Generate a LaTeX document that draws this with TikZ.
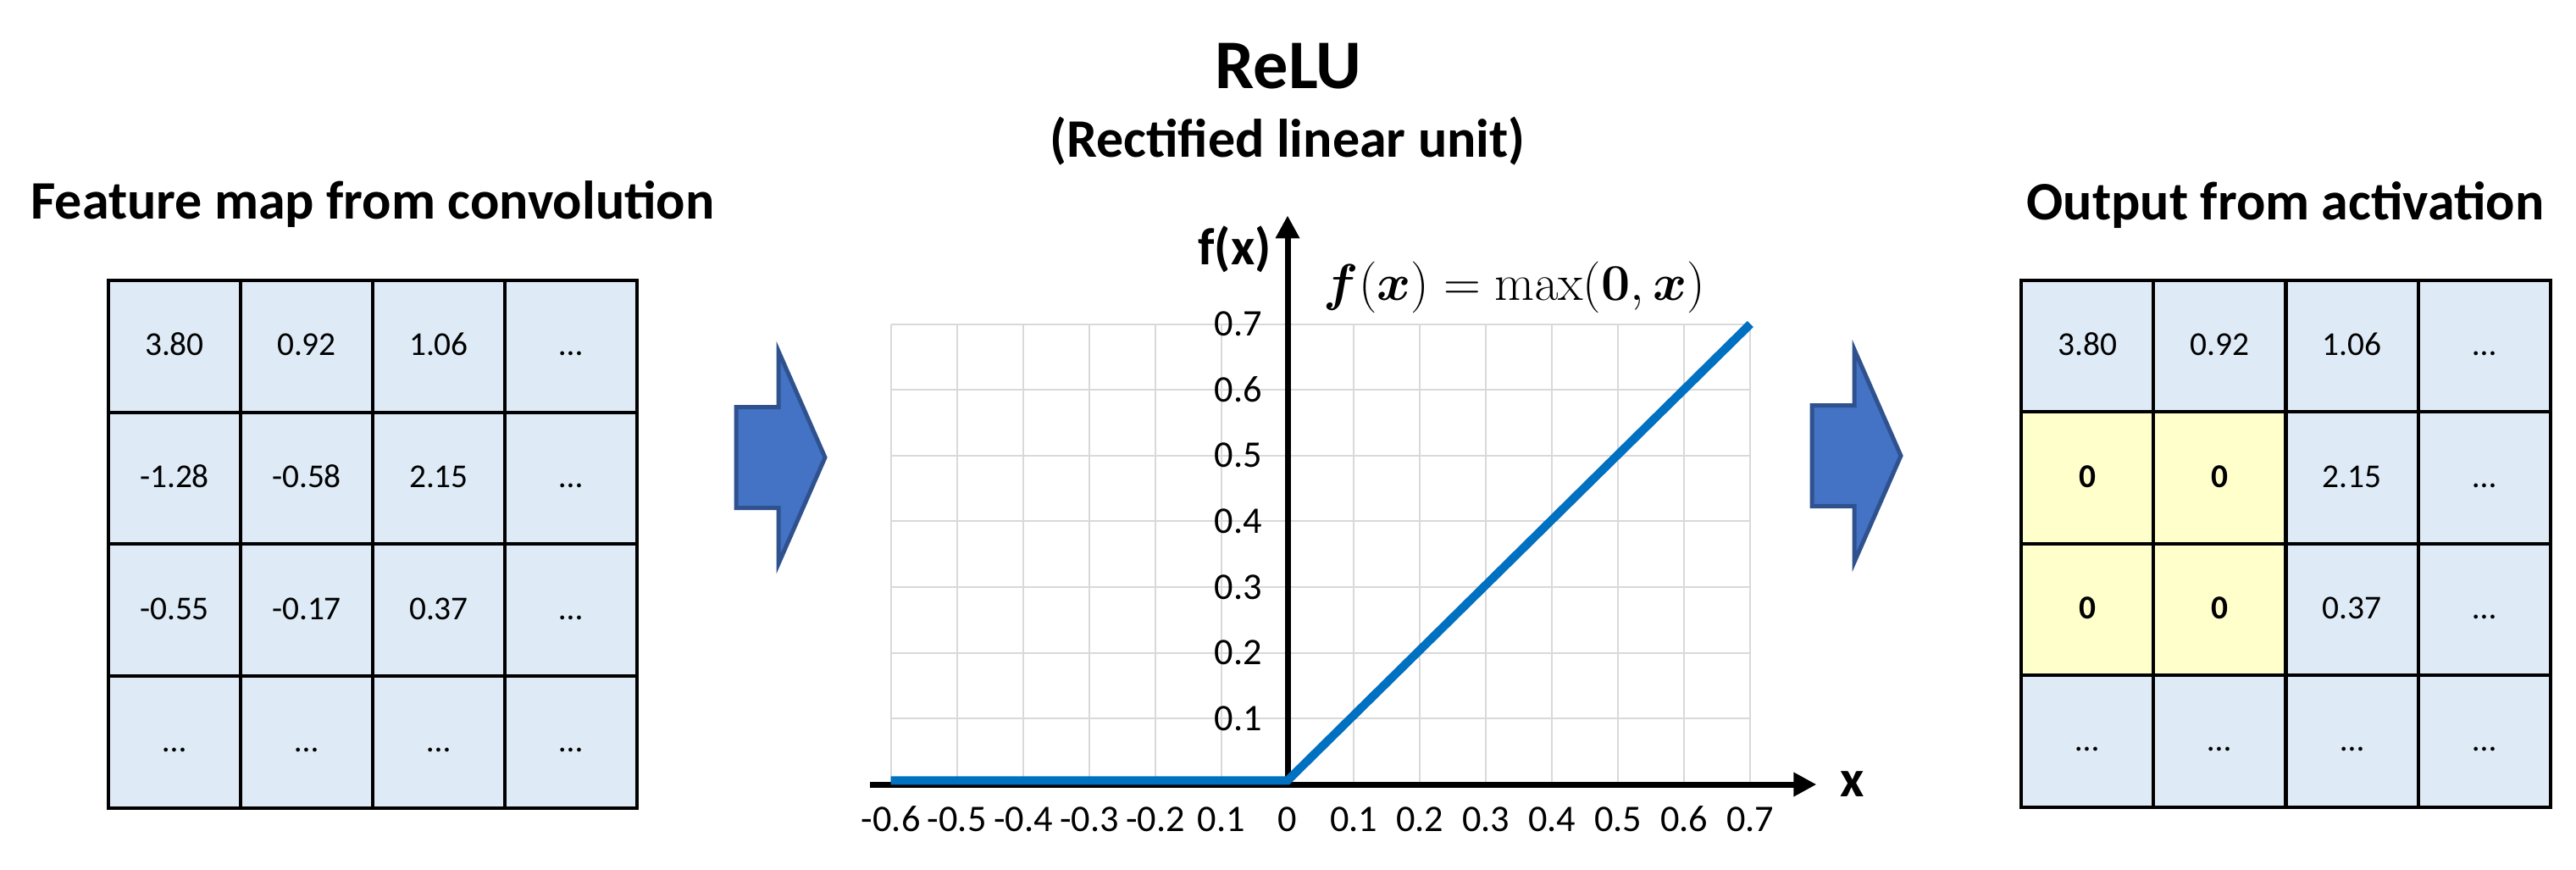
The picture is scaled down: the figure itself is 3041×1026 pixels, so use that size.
\documentclass[tikz,border=0pt]{standalone}
\usepackage[no-math]{fontspec}
\setmainfont{Carlito}
\usepackage{bm}
\usetikzlibrary{arrows.meta,positioning}
\definecolor{cellblue}{HTML}{DEEBF7}
\definecolor{cellyellow}{HTML}{FFFFCC}
\definecolor{relublue}{HTML}{0070C0}
\definecolor{arrowfill}{HTML}{4472C4}
\definecolor{arrowedge}{HTML}{2F528F}
\definecolor{gridgray}{HTML}{D9D9D9}
\tikzset{
  title/.style={font=\bfseries\fontsize{18.2}{22}\selectfont, inner sep=0pt, anchor=base},
  cell/.style={draw, line width=0.04cm, fill=cellblue, minimum width=1.56cm, minimum height=1.557cm,
    inner sep=0pt, text height=0.63em, text depth=0pt, font=\fontsize{11.2}{13}\selectfont},
  blockarrow/.style={fill=arrowfill, draw=arrowedge, line width=0.05cm},
  axisline/.style={line width=0.07cm, -{Triangle[length=0.27cm,width=0.27cm]}},
  ticklabel/.style={font=\fontsize{12.6}{15}\selectfont, inner sep=0pt},
  axislabel/.style={font=\bfseries\fontsize{17.5}{21}\selectfont, inner sep=0pt},
}
\begin{document}
\begin{tikzpicture}[x=0.01cm,y=-0.01cm]
\useasboundingbox (0,0) rectangle (3041,1026);

% titles
\node[title] (intitle) at (440,258) {Feature map from convolution};
\node[title] (outtitle) at (2698,259) {Output from activation};
\node[title, font=\bfseries\fontsize{23.4}{28}\selectfont] (relu) at (1521,104) {ReLU};
\node[title] (relusub) at (1520,185) {(Rectified linear unit)};

% feature map
\foreach \row [count=\r] in {{3.80,0.92,1.06,…},{-1.28,-0.58,2.15,…},{-0.55,-0.17,0.37,…},{…,…,…,…}}
  \foreach \val [count=\c] in \row
    \node[cell] (in-\r-\c) at (128+156*\c-78, 331+155.75*\r-77.9) {\val};

% output after relu
\foreach \row [count=\r] in {{3.80/cellblue,0.92/cellblue,1.06/cellblue,…/cellblue},
    {{\bfseries 0}/cellyellow,{\bfseries 0}/cellyellow,2.15/cellblue,…/cellblue},
    {{\bfseries 0}/cellyellow,{\bfseries 0}/cellyellow,0.37/cellblue,…/cellblue},
    {…/cellblue,…/cellblue,…/cellblue,…/cellblue}}
  \foreach \val/\fc [count=\c] in \row
    \node[cell, fill=\fc] (out-\r-\c) at (2386+156.25*\c-78.1, 331+155.5*\r-77.8) {\val};

% block arrows
\foreach \ax/\ay in {869/540, 2139/538}
  \draw[blockarrow, shift={(\ax,\ay)}] (0,-59.5) -- (50,-59.5) -- (50,-125.5) -- (105,0)
    -- (50,125.5) -- (50,59.5) -- (0,59.5) -- cycle;

% relu plot
\begin{scope}[shift={(1520,926)}, x=7.8cm, y=7.76cm]
  \foreach \i in {-6,...,7}
    \draw[gridgray, line width=0.02cm] (\i/10,0) -- (\i/10,0.7);
  \foreach \j in {1,...,7}
    \draw[gridgray, line width=0.02cm] (-0.6,\j/10) -- (0.7,\j/10);
  \draw[axisline] (-0.632,0) -- (0.8,0) node[right=0.25cm, axislabel] (xlab) {x};
  \draw[axisline] (0,0) -- (0,0.865);
  \node[axislabel, anchor=base east] (fxlab) at (-0.024,0.79) {f(x)};
  \draw[relublue, line width=0.1cm] (-0.6,0.006) -- (0,0.006) -- (0.7,0.7);
  \foreach \j in {1,...,7}
    \node[ticklabel, anchor=east] (ytick\j) at (-0.038,\j/10) {0.\j};
  \foreach \i/\lab in {-6/-0.6,-5/-0.5,-4/-0.4,-3/-0.3,-2/-0.2,-1/0.1,0/0,1/0.1,2/0.2,3/0.3,4/0.4,5/0.5,6/0.6,7/0.7}
    \node[ticklabel] (xtick\i) at (\i/10,-0.053) {\lab};
  \node[anchor=base west, inner sep=0pt, font=\fontsize{17}{20}\selectfont] (formula) at (0.054,0.736)
    {$\bm{f}(\bm{x}) = \max(\mathbf{0},\bm{x})$};
\end{scope}
\end{tikzpicture}
\end{document}
